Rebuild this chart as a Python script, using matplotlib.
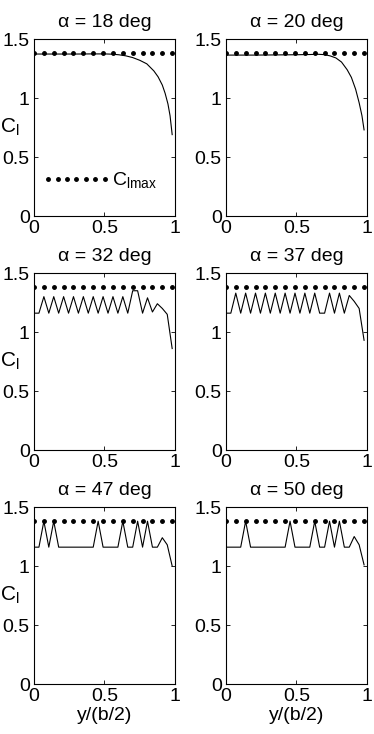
import matplotlib
matplotlib.use("Agg")
import matplotlib.pyplot as plt
import numpy as np

plt.rcParams['font.family'] = ['Liberation Sans', 'DejaVu Sans']
plt.rcParams['font.size'] = 14
plt.rcParams['mathtext.fontset'] = 'custom'
plt.rcParams['mathtext.rm'] = 'Liberation Sans'

# spanwise positions y/(b/2)
alphas = [18, 20, 32, 37, 47, 50]

clmax = 1.38
clmax_x = [0, 0.07, 0.14, 0.21, 0.28, 0.35, 0.42, 0.49, 0.56, 0.63, 0.70, 0.77, 0.84, 0.91, 0.98]

# smooth (pre-stall) distributions
x18 = [0, 0.1, 0.2, 0.3, 0.4, 0.5, 0.55, 0.6, 0.65, 0.7, 0.75, 0.8, 0.85, 0.88, 0.91, 0.93, 0.95, 0.965, 0.98]
cl18 = [1.373, 1.373, 1.373, 1.373, 1.374, 1.374, 1.372, 1.367, 1.358, 1.343, 1.32, 1.29, 1.23,
        1.18, 1.11, 1.04, 0.95, 0.85, 0.69]
x20 = [0, 0.1, 0.2, 0.3, 0.4, 0.5, 0.6, 0.65, 0.7, 0.74, 0.78, 0.82, 0.86, 0.89, 0.92, 0.945, 0.965, 0.98]
cl20 = [1.364, 1.364, 1.364, 1.365, 1.366, 1.367, 1.369, 1.371, 1.368, 1.357, 1.34, 1.305, 1.24,
        1.175, 1.075, 0.96, 0.85, 0.73]

# post-stall distributions at 29 stations
xs = [0, 0.035, 0.07, 0.105, 0.14, 0.175, 0.21, 0.245, 0.28, 0.315, 0.35, 0.385, 0.42, 0.455,
      0.49, 0.525, 0.56, 0.595, 0.63, 0.665, 0.70, 0.735, 0.77, 0.805, 0.84, 0.875, 0.91, 0.945, 0.98]
cl32 = [1.16, 1.16, 1.30, 1.16, 1.30, 1.16, 1.30, 1.16, 1.30, 1.16, 1.30, 1.16, 1.30, 1.16,
        1.30, 1.16, 1.30, 1.16, 1.30, 1.16, 1.35, 1.35, 1.16, 1.29, 1.17, 1.24, 1.20, 1.15, 0.86]
cl37 = [1.16, 1.16, 1.33, 1.16, 1.33, 1.16, 1.33, 1.16, 1.33, 1.16, 1.33, 1.16, 1.33, 1.16,
        1.33, 1.16, 1.33, 1.16, 1.33, 1.16, 1.16, 1.33, 1.16, 1.33, 1.16, 1.31, 1.26, 1.20, 0.93]
cl47 = [1.16, 1.16, 1.38, 1.16, 1.38, 1.16, 1.16, 1.16, 1.16, 1.16, 1.16, 1.16, 1.16, 1.38,
        1.16, 1.16, 1.16, 1.16, 1.38, 1.16, 1.16, 1.38, 1.16, 1.38, 1.16, 1.16, 1.24, 1.18, 1.00]
cl50 = [1.16, 1.16, 1.16, 1.16, 1.38, 1.16, 1.16, 1.16, 1.16, 1.16, 1.16, 1.16, 1.16, 1.38,
        1.16, 1.16, 1.16, 1.16, 1.38, 1.16, 1.16, 1.38, 1.16, 1.38, 1.16, 1.16, 1.25, 1.18, 1.01]

curves = [(x18, cl18), (x20, cl20), (xs, cl32), (xs, cl37), (xs, cl47), (xs, cl50)]

fig = plt.figure(figsize=(3.74, 7.34), dpi=100)
lefts = [0.0909, 0.604]
bottoms = [0.7057, 0.3869, 0.0681]
w, h = 0.377, 0.2411

for k, (alpha, (cx, cy)) in enumerate(zip(alphas, curves)):
    row, col = divmod(k, 2)
    ax = fig.add_axes([lefts[col], bottoms[row], w, h])
    ax.plot(cx, cy, color='k', lw=0.8)
    ax.plot(clmax_x, [clmax] * len(clmax_x), linestyle='none', marker='o', ms=2.5,
            color='k', label=r'C$_{\mathregular{lmax}}$')
    ax.set_xlim(0, 1)
    ax.set_ylim(0, 1.5)
    ax.set_xticks([0, 0.5, 1])
    ax.set_xticklabels(['0', '0.5', '1'])
    ax.set_yticks([0, 0.5, 1, 1.5])
    ax.set_yticklabels(['0', '0.5', '1', '1.5'])
    ax.tick_params(direction='in', top=True, right=True, length=3, width=0.6, pad=3)
    for s in ax.spines.values():
        s.set_linewidth(0.8)
    ax.set_title(u'\u03b1 = %d deg' % alpha, fontsize=14, pad=9)
    if col == 0:
        ax.set_ylabel(r'C$_{\mathregular{l}}$', rotation=0, fontsize=15)
        ax.yaxis.set_label_coords(-0.17, 0.44)
    if row == 2:
        ax.set_xlabel('y/(b/2)', fontsize=14, labelpad=1)
    if k == 0:
        ax.legend(loc='center left', bbox_to_anchor=(0.06, 0.2), frameon=False,
                  numpoints=7, handlelength=3.5, handletextpad=0.1,
                  borderpad=0, borderaxespad=0, fontsize=14)

fig.savefig('out.png', dpi=100)
